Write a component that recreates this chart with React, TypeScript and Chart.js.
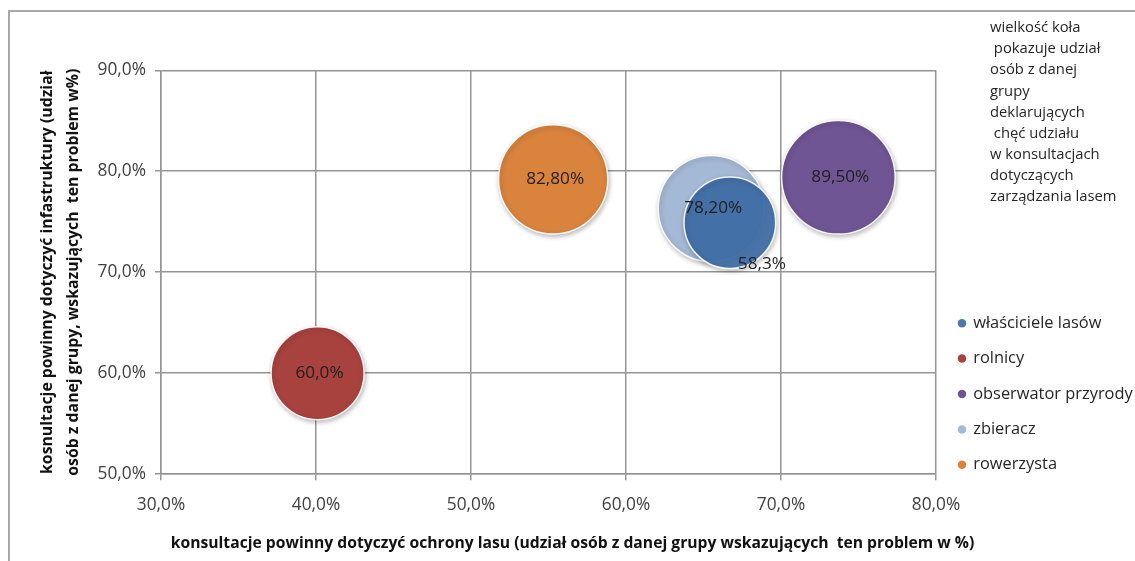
import React, { useEffect, useRef } from "react";
import { Chart, registerables } from "chart.js";

Chart.register(...registerables);

const groups = ["właściciele lasów", "rolnicy", "obserwator przyrody", "zbieracz", "rowerzysta"];
const forestProtection = [66.7, 40.1, 73.7, 65.5, 55.3];
const infrastructure = [74.9, 60.0, 79.4, 76.3, 79.2];
const participation = [58.3, 60.0, 89.5, 78.2, 82.8];
const participationLabels = ["58,3%", "60,0%", "89,50%", "78,20%", "82,80%"];
const bubbleColors = ["rgba(63,110,168,0.93)", "#A8423F", "#6F5593", "#A4B9D5", "#D9833D"];
const xRange = [30, 80];
const yRange = [50, 90];
const tickStep = 10;
const yTitleLines = [
  "kosnultacje powinny dotyczyć infastruktury (udział",
  "osób z danej grupy, wskazujących  ten problem w%)",
];
const xTitle = "konsultacje powinny dotyczyć ochrony lasu (udział osób z danej grupy wskazujących  ten problem w %)";
const noteLines = [
  "wielkość koła",
  " pokazuje udział",
  "osób z danej",
  "grupy",
  "deklarujących",
  " chęć udziału",
  "w konsultacjach",
  "dotyczących",
  "zarządzania lasem",
];

const SIZE_SCALE = 6;
const FONT = "'Open Sans', 'Noto Sans', sans-serif";
const fmtPct = (v: number) => v.toFixed(1).replace(".", ",") + "%";

export default function App() {
  const ref = useRef<HTMLCanvasElement | null>(null);

  useEffect(() => {
    if (!ref.current) return;

    const shadowPlugin = {
      id: "bubbleShadow",
      beforeDatasetsDraw(chart: any) {
        const ctx = chart.ctx;
        ctx.save();
        ctx.shadowColor = "rgba(0,0,0,0.28)";
        ctx.shadowBlur = 5;
        ctx.shadowOffsetX = 1;
        ctx.shadowOffsetY = 2;
      },
      afterDatasetsDraw(chart: any) {
        chart.ctx.restore();
      },
    };

    const labelPlugin = {
      id: "bubbleLabels",
      afterDatasetsDraw(chart: any) {
        const ctx = chart.ctx;
        ctx.save();
        ctx.font = `17.2px ${FONT}`;
        ctx.fillStyle = "#1f1f1f";
        ctx.textAlign = "center";
        ctx.textBaseline = "middle";
        chart.data.datasets.forEach((_ds: any, i: number) => {
          const meta = chart.getDatasetMeta(i);
          const el: any = meta.data[0];
          if (!el) return;
          const r = el.options.radius;
          let x = el.x + 2;
          let y = el.y;
          if (i === 0) {
            x = el.x + r * 0.7;
            y = el.y + r * 0.9;
          }
          ctx.fillText(participationLabels[i], x, y);
        });
        ctx.restore();
      },
    };

    const notePlugin = {
      id: "sideNote",
      afterDraw(chart: any) {
        const ctx = chart.ctx;
        ctx.save();
        ctx.font = `14.8px ${FONT}`;
        ctx.fillStyle = "#262626";
        ctx.textAlign = "left";
        ctx.textBaseline = "middle";
        noteLines.forEach((line, i) => ctx.fillText(line, 980, 16 + i * 21.1));
        ctx.restore();
      },
    };

    const legendPlacer = {
      id: "legendPlacer",
      beforeLayout(chart: any) {
        const lg = chart.legend;
        if (lg && !lg._patchedFit) {
          const orig = lg.fit.bind(lg);
          lg.fit = function () {
            orig();
            this.width = 199;
          };
          lg._patchedFit = true;
        }
      },
      afterLayout(chart: any) {
        const lg = chart.legend;
        if (!lg) return;
        lg.left = 930;
        lg.right = 1125;
        lg.top = 284;
        lg.bottom = 549;
      },
    };

    const chart = new Chart(ref.current, {
      type: "bubble",
      data: {
        datasets: groups.map((g, i) => ({
          label: g,
          data: [{ x: forestProtection[i], y: infrastructure[i], r: SIZE_SCALE * Math.sqrt(participation[i]) }],
          backgroundColor: bubbleColors[i],
          borderColor: "rgba(255,255,255,0.9)",
          borderWidth: 1.5,
        })),
      },
      options: {
        animation: false,
        responsive: false,
        devicePixelRatio: 1,
        layout: { padding: { top: 56, left: 0, right: 0, bottom: 0 } },
        scales: {
          x: {
            type: "linear",
            min: xRange[0],
            max: xRange[1],
            afterFit: (s: any) => {
              s.height = 56;
            },
            ticks: {
              stepSize: tickStep,
              padding: 15,
              color: "#404040",
              font: { family: FONT, size: 17.3 },
              callback: (v: any) => fmtPct(Number(v)),
            },
            grid: { color: "#959595", lineWidth: 1.5, tickLength: 6, drawTicks: true },
            border: { color: "#959595", width: 1.5 },
          },
          y: {
            type: "linear",
            min: yRange[0],
            max: yRange[1],
            afterFit: (s: any) => {
              s.width = 151;
            },
            ticks: {
              stepSize: tickStep,
              padding: 9,
              color: "#404040",
              font: { family: FONT, size: 17.3 },
              callback: (v: any) => fmtPct(Number(v)),
            },
            grid: { color: "#959595", lineWidth: 1.5, tickLength: 6, drawTicks: true },
            border: { color: "#959595", width: 1.5 },
            title: {
              display: true,
              text: yTitleLines,
              color: "#111",
              font: { family: FONT, size: 15.8, weight: "bold", lineHeight: 26 / 15.8 },
              padding: { top: 24, bottom: 0 },
            },
          },
        },
        plugins: {
          legend: {
            position: "right",
            align: "start",
            labels: {
              usePointStyle: true,
              pointStyle: "circle",
              boxWidth: 6,
              boxHeight: 6,
              padding: 19,
              color: "#262626",
              font: { family: FONT, size: 16.4 },
              generateLabels: (c: any) =>
                Chart.defaults.plugins.legend.labels.generateLabels(c).map((it: any, i: number) => ({
                  ...it,
                  fillStyle: bubbleColors[i],
                  strokeStyle: bubbleColors[i],
                  lineWidth: 0,
                })),
            },
          },
          title: {
            display: true,
            position: "bottom",
            text: xTitle,
            color: "#111",
            font: { family: FONT, size: 15.7, weight: "bold" },
            padding: { top: 4, bottom: 8 },
          },
          tooltip: { enabled: false },
        },
      } as any,
      plugins: [legendPlacer, shadowPlugin, labelPlugin, notePlugin],
    });

    return () => chart.destroy();
  }, []);

  return (
    <div
      style={{
        position: "fixed",
        left: 8,
        top: 10,
        width: 1127,
        height: 551,
        boxSizing: "border-box",
        borderLeft: "2px solid #a8a8a8",
        borderTop: "2px solid #a8a8a8",
        overflow: "hidden",
        background: "#fff",
      }}
    >
      <canvas ref={ref} width={1125} height={549} style={{ display: "block" }} />
    </div>
  );
}
